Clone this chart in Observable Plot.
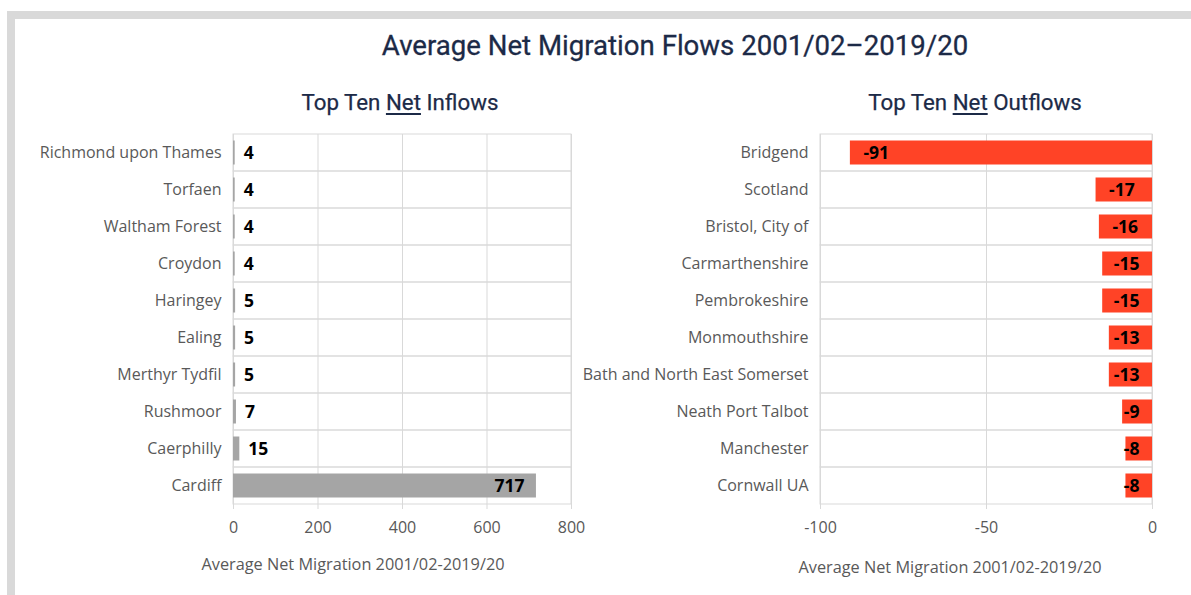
<!DOCTYPE html>
<html>
<head>
<meta charset="utf-8">
<script src="https://cdn.jsdelivr.net/npm/d3@7"></script>
<script src="https://cdn.jsdelivr.net/npm/@observablehq/plot@0.6"></script>
<style>
  html, body { margin: 0; padding: 0; background: #fff; }
  #wrap { position: relative; width: 1191px; height: 595px; overflow: hidden; background: #fff; }
  #frame { position: absolute; left: 7px; top: 11px; width: 1200px; height: 600px; border-left: 8px solid #d9d9d9; border-top: 8px solid #d9d9d9; }
  .title { position: absolute; left: 375px; width: 600px; top: 29px; text-align: center; font-family: Roboto, sans-serif; font-weight: 400; font-size: 27.6px; color: #1c2a47; white-space: nowrap; -webkit-text-stroke: 0.3px #1c2a47; }
  .sub { position: absolute; width: 400px; top: 89px; text-align: center; font-family: Roboto, sans-serif; font-weight: 400; font-size: 22.3px; color: #1c2a47; white-space: nowrap; -webkit-text-stroke: 0.25px #1c2a47; }
  .sub u { text-decoration-thickness: 1.5px; text-underline-offset: 3px; }
  .axlab { position: absolute; width: 400px; text-align: center; font-family: "Open Sans", sans-serif; font-size: 16.3px; color: #595959; white-space: nowrap; }
  .panel { position: absolute; top: 120px; }
</style>
</head>
<body>
<div id="wrap">
  <div id="frame"></div>
  <div class="title">Average Net Migration Flows 2001/02–2019/20</div>
  <div class="sub" style="left:200px">Top Ten <u>Net</u> Inflows</div>
  <div class="sub" style="left:775px">Top Ten <u>Net</u> Outflows</div>
  <div id="left" class="panel" style="left:0px"></div>
  <div id="right" class="panel" style="left:600px"></div>
  <div class="axlab" style="left:153px; top:553px">Average Net Migration 2001/02-2019/20</div>
  <div class="axlab" style="left:750px; top:556px">Average Net Migration 2001/02-2019/20</div>
</div>
<script>
const inflowNames = ["Richmond upon Thames", "Torfaen", "Waltham Forest", "Croydon", "Haringey", "Ealing", "Merthyr Tydfil", "Rushmoor", "Caerphilly", "Cardiff"];
const inflowValues = [4, 4, 4, 4, 5, 5, 5, 7, 15, 717];
const inflowTicks = [0, 200, 400, 600, 800];

const outflowNames = ["Bridgend", "Scotland", "Bristol, City of", "Carmarthenshire", "Pembrokeshire", "Monmouthshire", "Bath and North East Somerset", "Neath Port Talbot", "Manchester", "Cornwall UA"];
const outflowValues = [-91, -17, -16, -15, -15, -13, -13, -9, -8, -8];
const outflowTicks = [-100, -50, 0];

const inflow = inflowNames.map((name, i) => ({name, value: inflowValues[i]}));
const outflow = outflowNames.map((name, i) => ({name, value: outflowValues[i]}));

const FONT = "'Open Sans', sans-serif";
const GRID = "#d9d9d9";
const TXT = "#595959";

function panel(data, names, ticks, fill, opts, labelMarks) {
  return Plot.plot({
    width: opts.width,
    height: 470,
    marginLeft: opts.marginLeft,
    marginRight: opts.marginRight,
    marginTop: 14,
    marginBottom: 86,
    style: {fontFamily: FONT, fontSize: "16px", color: TXT, background: "transparent", overflow: "visible"},
    x: {domain: [ticks[0], ticks[ticks.length - 1]], label: null},
    y: {domain: names, padding: 0, label: null},
    marks: [
      Plot.barX(names, {x1: ticks[0], x2: ticks[ticks.length - 1], y: d => d, fill: "none", stroke: GRID, strokeWidth: 1}),
      Plot.ruleX(ticks, {stroke: GRID, strokeWidth: 1}),
      Plot.barX(data, {x: "value", y: "name", fill, insetTop: 6.5, insetBottom: 6.5}),
      ...labelMarks,
      Plot.axisX({ticks, tickSize: 5, tickPadding: 12, stroke: GRID, fill: TXT, tickFormat: d => String(d), fontSize: 16}),
      Plot.axisY({tickSize: 0, tickPadding: 12, fill: TXT, fontSize: 16})
    ]
  });
}

const labStyle = {fontWeight: "bold", fill: "#000", fontSize: 17.5, fontFamily: FONT};

const left = panel(inflow, inflowNames, inflowTicks, "#a5a5a5", {width: 600, marginLeft: 233, marginRight: 29}, [
  Plot.text(inflow.filter(d => d.value < 100), {x: "value", y: "name", text: d => String(d.value), textAnchor: "start", dx: 8.5, ...labStyle}),
  Plot.text(inflow.filter(d => d.value >= 100), {x: "value", y: "name", text: d => String(d.value), textAnchor: "end", dx: -12, ...labStyle})
]);
document.getElementById("left").append(left);

const right = panel(outflow, outflowNames, outflowTicks, "#ff4326", {width: 591, marginLeft: 220, marginRight: 39}, [
  Plot.text(outflow.filter(d => d.value <= -16), {x: "value", y: "name", text: d => String(d.value), textAnchor: "start", dx: 13, ...labStyle}),
  Plot.text(outflow.filter(d => d.value > -16), {x: outflowTicks[outflowTicks.length - 1], y: "name", text: d => String(d.value), textAnchor: "end", dx: -13, ...labStyle})
]);
document.getElementById("right").append(right);
</script>
</body>
</html>
